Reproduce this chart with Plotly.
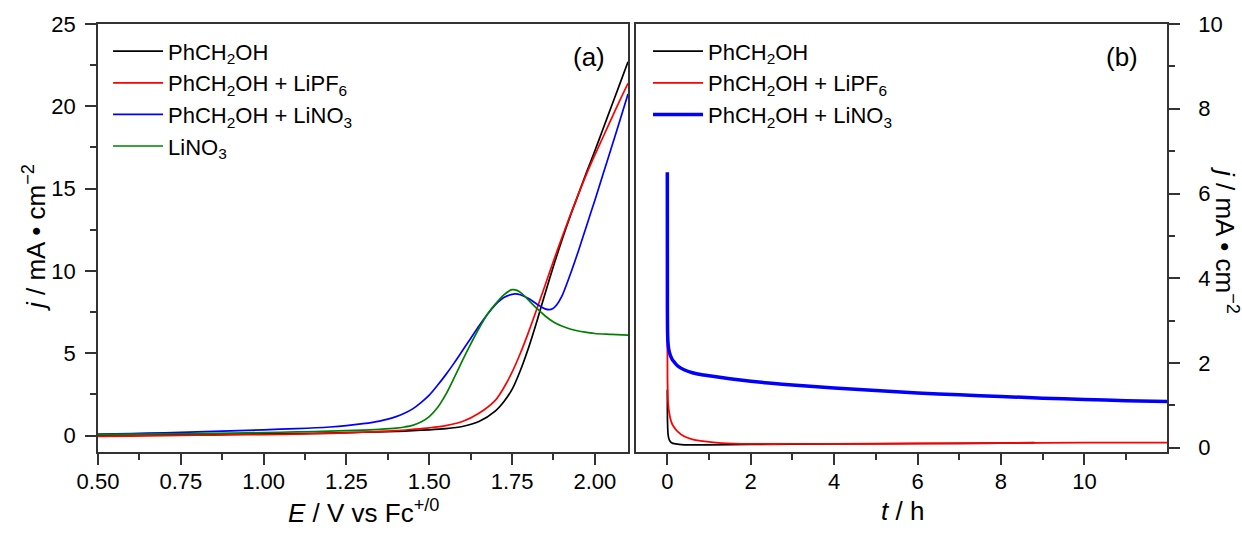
import plotly.graph_objects as go

# ---------------- Panel (a): LSV curves ----------------
E_black = [0.5, 0.6, 0.7, 0.8, 0.9, 1.0, 1.1, 1.2, 1.3, 1.4, 1.45, 1.5, 1.55, 1.6, 1.65, 1.7, 1.725, 1.75,
           1.775, 1.8, 1.825, 1.85, 1.875, 1.9, 1.925, 1.95, 1.975, 2.0, 2.025, 2.05, 2.075, 2.1]
j_black = [0.02, 0.04, 0.05, 0.06, 0.08, 0.1, 0.12, 0.15, 0.2, 0.25, 0.3, 0.35, 0.42, 0.55, 0.85, 1.5, 2.05, 2.8,
           3.95, 5.35, 6.95, 8.65, 10.3, 11.85, 13.3, 14.65, 16.0, 17.3, 18.65, 20.0, 21.35, 22.7]

E_red = [0.5, 0.6, 0.7, 0.8, 0.9, 1.0, 1.1, 1.2, 1.3, 1.4, 1.45, 1.5, 1.55, 1.6, 1.65, 1.7, 1.725, 1.75,
         1.775, 1.8, 1.825, 1.85, 1.875, 1.9, 1.925, 1.95, 1.975, 2.0, 2.025, 2.05, 2.075, 2.1]
j_red = [-0.05, -0.03, 0.0, 0.02, 0.04, 0.06, 0.09, 0.13, 0.2, 0.3, 0.38, 0.47, 0.6, 0.85, 1.35, 2.15, 2.9, 3.85,
         5.0, 6.3, 7.7, 9.15, 10.6, 12.0, 13.35, 14.65, 15.9, 17.05, 18.15, 19.25, 20.35, 21.4]

E_blue = [0.5, 0.6, 0.7, 0.8, 0.9, 1.0, 1.1, 1.2, 1.25, 1.3, 1.35, 1.375, 1.4, 1.425, 1.45, 1.475, 1.5, 1.525,
          1.55, 1.575, 1.6, 1.625, 1.65, 1.675, 1.7, 1.725, 1.75, 1.76, 1.775, 1.8, 1.825, 1.84, 1.852, 1.862,
          1.872, 1.885, 1.9, 1.925, 1.95, 1.975, 2.0, 2.025, 2.05, 2.075, 2.1]
j_blue = [0.08, 0.12, 0.17, 0.22, 0.28, 0.35, 0.42, 0.52, 0.6, 0.72, 0.88, 1.0, 1.15, 1.35, 1.62, 2.0, 2.45, 3.05,
          3.7, 4.4, 5.15, 5.9, 6.65, 7.35, 7.95, 8.38, 8.58, 8.6, 8.55, 8.32, 7.98, 7.8, 7.68, 7.65,
          7.7, 7.95, 8.45, 9.75, 11.2, 12.75, 14.3, 15.9, 17.5, 19.1, 20.75]

E_green = [0.5, 0.6, 0.7, 0.8, 0.9, 1.0, 1.1, 1.2, 1.3, 1.35, 1.4, 1.425, 1.45, 1.475, 1.5, 1.525, 1.55, 1.575, 1.6,
           1.625, 1.65, 1.675, 1.7, 1.725, 1.75, 1.765, 1.78, 1.8, 1.825, 1.85, 1.875, 1.9, 1.925, 1.95,
           1.975, 2.0, 2.05, 2.1]
j_green = [0.06, 0.08, 0.1, 0.12, 0.15, 0.18, 0.22, 0.27, 0.33, 0.38, 0.45, 0.52, 0.62, 0.82, 1.15, 1.7, 2.5, 3.5, 4.55,
           5.55, 6.5, 7.35, 8.0, 8.55, 8.86, 8.82, 8.62, 8.22, 7.72, 7.26, 6.9, 6.65, 6.47, 6.35,
           6.27, 6.2, 6.15, 6.1]

# ---------------- Panel (b): chronoamperometry ----------------
t_black = [0, 0.005, 0.02, 0.05, 0.1, 0.2, 0.4, 1, 2, 4, 6, 8, 8.8]
jt_black = [1.37, 0.6, 0.3, 0.18, 0.12, 0.09, 0.07, 0.07, 0.08, 0.09, 0.1, 0.11, 0.12]

t_red = [0, 0.005, 0.02, 0.05, 0.1, 0.15, 0.25, 0.4, 0.6, 0.9, 1.3, 2, 3, 4, 6, 8, 10, 12]
jt_red = [2.98, 1.6, 1.05, 0.8, 0.6, 0.5, 0.38, 0.27, 0.2, 0.15, 0.11, 0.09, 0.09, 0.09, 0.1, 0.11, 0.12, 0.12]

t_blue = [0, 0.002, 0.006, 0.015, 0.03, 0.06, 0.1, 0.15, 0.25, 0.4, 0.6, 0.8, 1.0, 1.5, 2, 2.5, 3, 4, 5, 6, 7, 8,
          9, 10, 11, 12]
jt_blue = [6.5, 3.3, 2.75, 2.5, 2.35, 2.22, 2.12, 2.04, 1.93, 1.84, 1.77, 1.73, 1.70, 1.63, 1.57, 1.52, 1.48, 1.41,
           1.35, 1.29, 1.25, 1.21, 1.17, 1.14, 1.11, 1.09]

names = ["PhCH<sub>2</sub>OH", "PhCH<sub>2</sub>OH + LiPF<sub>6</sub>",
         "PhCH<sub>2</sub>OH + LiNO<sub>3</sub>", "LiNO<sub>3</sub>"]
colors = ["#000000", "#ff0000", "#0000ff", "#008000"]

FONT = "Liberation Sans, Arial, sans-serif"
TICK = 22
TITLE = 26
LEG = 22

fig = go.Figure()

left_sets = [(E_black, j_black), (E_red, j_red), (E_blue, j_blue), (E_green, j_green)]
for i, (xs, ys) in enumerate(left_sets):
    fig.add_trace(go.Scatter(x=xs, y=ys, mode="lines", name=names[i],
                             line=dict(color=colors[i], width=1.7, shape="spline", smoothing=0.8),
                             xaxis="x", yaxis="y", legend="legend", legendgroup="a%d" % i))

right_sets = [(t_black, jt_black), (t_red, jt_red), (t_blue, jt_blue)]
widths = [1.7, 1.8, 3.5]
for i, (xs, ys) in enumerate(right_sets):
    fig.add_trace(go.Scatter(x=xs, y=ys, mode="lines", name=names[i],
                             line=dict(color=colors[i], width=widths[i], shape="spline", smoothing=0.5),
                             xaxis="x2", yaxis="y2", legend="legend2", legendgroup="b%d" % i))

minor_common = dict(ticklen=6, ticks="outside", tickwidth=1.5, tickcolor="#333333")
axis_common = dict(showline=True, linecolor="#333333", linewidth=1.6, mirror=True,
                   ticks="outside", ticklen=11, tickwidth=1.5, tickcolor="#333333",
                   showgrid=False, zeroline=False,
                   tickfont=dict(family=FONT, size=TICK, color="#000000"))


def px_x(p):
    return (p - 98) / 1069


def px_y(p):
    return 1 - (p - 24) / 428


fig.update_layout(
    width=1242, height=540,
    margin=dict(l=98, r=75, t=24, b=88),
    paper_bgcolor="white", plot_bgcolor="white",
    font=dict(family=FONT, size=TICK, color="#000000"),
    xaxis=dict(domain=[0, 0.4958], range=[0.5, 2.1], tick0=0.5, dtick=0.25, tickformat=".2f",
               anchor="y", minor=dict(dtick=0.125, **minor_common), ticklabelstandoff=-2,
               **axis_common),
    yaxis=dict(domain=[0, 1], range=[-1, 25], tick0=0, dtick=5, anchor="x",
               minor=dict(dtick=2.5, **minor_common), ticklabelstandoff=5,
               **axis_common),
    xaxis2=dict(domain=[0.5033, 1], range=[-0.75, 11.98], tick0=0, dtick=2, anchor="y2",
                minor=dict(dtick=1, **minor_common), ticklabelstandoff=-2,
                **axis_common),
    yaxis2=dict(domain=[0, 1], range=[-0.1, 10], tick0=0, dtick=2, anchor="x2", side="right",
                minor=dict(dtick=1, **minor_common), ticklabelstandoff=14,
                **axis_common),
    legend=dict(x=0.0094, y=0.985, xanchor="left", yanchor="top", bgcolor="rgba(0,0,0,0)",
                font=dict(family=FONT, size=LEG), itemwidth=50, tracegroupgap=0),
    legend2=dict(x=0.5145, y=0.985, xanchor="left", yanchor="top", bgcolor="rgba(0,0,0,0)",
                 font=dict(family=FONT, size=LEG), itemwidth=50, tracegroupgap=0),
    annotations=[
        dict(text="(a)", x=px_x(589), y=px_y(57), xref="paper", yref="paper",
             xanchor="center", yanchor="middle", showarrow=False, font=dict(family=FONT, size=26)),
        dict(text="(b)", x=px_x(1122), y=px_y(57), xref="paper", yref="paper",
             xanchor="center", yanchor="middle", showarrow=False, font=dict(family=FONT, size=26)),
        dict(text="<i>E</i> / V vs Fc<sup>+/0</sup>", x=px_x(363), y=px_y(511), xref="paper", yref="paper",
             xanchor="center", yanchor="middle", showarrow=False, font=dict(family=FONT, size=TITLE)),
        dict(text="<i>t</i> / h", x=px_x(902), y=px_y(511), xref="paper", yref="paper",
             xanchor="center", yanchor="middle", showarrow=False, font=dict(family=FONT, size=TITLE)),
        dict(text="<i>j</i> / mA • cm<sup>−2</sup>", x=px_x(34), y=px_y(238), xref="paper", yref="paper",
             xanchor="center", yanchor="middle", showarrow=False, textangle=-90,
             font=dict(family=FONT, size=TITLE)),
        dict(text="<i>j</i> / mA • cm<sup>−2</sup>", x=px_x(1226), y=px_y(240), xref="paper", yref="paper",
             xanchor="center", yanchor="middle", showarrow=False, textangle=90,
             font=dict(family=FONT, size=26)),
    ],
)

fig.write_html("out.html")
